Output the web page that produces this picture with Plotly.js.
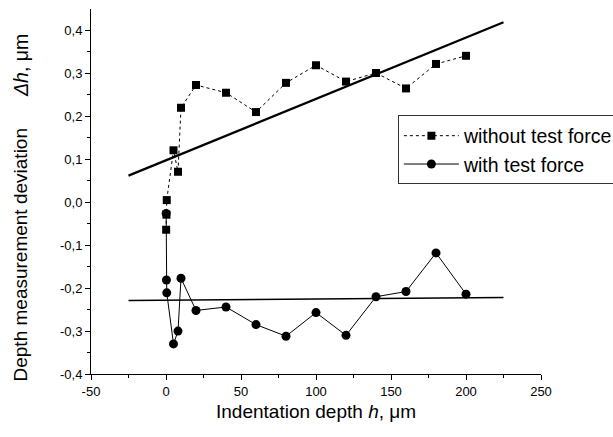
<!DOCTYPE html>
<html>
<head>
<meta charset="utf-8">
<script src="https://cdn.plot.ly/plotly-3.0.1.min.js"></script>
<style>html,body{margin:0;padding:0;background:#fff}#chart{width:613px;height:437px}</style>
</head>
<body>
<div id="chart"></div>
<script>
const hWithout = [0.1, 0.3, 0.5, 5, 8, 10, 20, 40, 60, 80, 100, 120, 140, 160, 180, 200];
const devWithout = [-0.064, -0.029, 0.005, 0.121, 0.071, 0.220, 0.273, 0.255, 0.210, 0.278, 0.319, 0.281, 0.301, 0.265, 0.322, 0.341];
const hWith = [0.1, 0.3, 0.5, 5, 8, 10, 20, 40, 60, 80, 100, 120, 140, 160, 180, 200];
const devWith = [-0.026, -0.181, -0.211, -0.330, -0.300, -0.177, -0.252, -0.244, -0.285, -0.312, -0.257, -0.310, -0.220, -0.208, -0.118, -0.214];
const fitH = [-25, 225];
const fitWithout = [0.062, 0.419];
const fitWith = [-0.229, -0.222];
const xTickVals = [-50, 0, 50, 100, 150, 200, 250];
const xTickText = ['-50', '0', '50', '100', '150', '200', '250'];
const yTickVals = [-0.4, -0.3, -0.2, -0.1, 0, 0.1, 0.2, 0.3, 0.4];
const yTickText = ['-0,4', '-0,3', '-0,2', '-0,1', '0,0', '0,1', '0,2', '0,3', '0,4'];
const xMinor = [-25, 25, 75, 125, 175, 225];
const yMinor = [-0.35, -0.25, -0.15, -0.05, 0.05, 0.15, 0.25, 0.35];

const FONT = 'Liberation Sans, Arial, sans-serif';
const traces = [
  {x: fitH, y: fitWithout, mode: 'lines', line: {color: '#000', width: 2.2}, showlegend: false, hoverinfo: 'skip'},
  {x: fitH, y: fitWith, mode: 'lines', line: {color: '#000', width: 1.5}, showlegend: false, hoverinfo: 'skip'},
  {x: hWithout, y: devWithout, name: 'without test force', mode: 'lines+markers',
   line: {color: '#000', width: 1, dash: 'dot'}, marker: {symbol: 'square', size: 8, color: '#000'}},
  {x: hWith, y: devWith, name: 'with test force', mode: 'lines+markers',
   line: {color: '#000', width: 1}, marker: {symbol: 'circle', size: 9, color: '#000'}}
];
const axisBase = {showgrid: false, zeroline: false, showline: true, linecolor: '#000', linewidth: 1,
  ticks: 'outside', ticklen: 5, tickwidth: 1, tickcolor: '#000', tickmode: 'array',
  tickfont: {family: FONT, size: 13, color: '#000'}, mirror: false};
const layout = {
  width: 613, height: 437,
  margin: {l: 91, r: 72, t: 9, b: 63, autoexpand: false},
  paper_bgcolor: '#fff', plot_bgcolor: '#fff',
  font: {family: FONT, color: '#000'},
  xaxis: Object.assign({}, axisBase, {range: [-50, 250], tickvals: xTickVals, ticktext: xTickText,
    minor: {tickmode: 'array', tickvals: xMinor, ticks: 'outside', ticklen: 3, tickcolor: '#000', tickwidth: 1}}),
  yaxis: Object.assign({}, axisBase, {range: [-0.4, 0.45], tickvals: yTickVals, ticktext: yTickText,
    minor: {tickmode: 'array', tickvals: yMinor, ticks: 'outside', ticklen: 3, tickcolor: '#000', tickwidth: 1}}),
  legend: {x: 0.682, y: 0.6137, xanchor: 'left', yanchor: 'middle', bgcolor: '#fff', bordercolor: '#333', borderwidth: 1,
    font: {family: FONT, size: 19.5, color: '#000'}, tracegroupgap: 0, itemwidth: 55},
  annotations: [
    {text: 'Indentation depth <i>h</i>, μm', xref: 'paper', yref: 'paper', x: 0.5, y: -0.104,
     xanchor: 'center', yanchor: 'middle', showarrow: false, font: {family: FONT, size: 19, color: '#000'}},
    {text: 'Depth measurement deviation', xref: 'paper', yref: 'paper',
     x: -0.1567, y: 0.326, xanchor: 'center', yanchor: 'middle', textangle: -90, showarrow: false,
     font: {family: FONT, size: 19, color: '#000'}},
    {text: '<i>Δh</i>, μm', xref: 'paper', yref: 'paper',
     x: -0.1567, y: 0.845, xanchor: 'center', yanchor: 'middle', textangle: -90, showarrow: false,
     font: {family: FONT, size: 19.5, color: '#000'}}
  ],
  showlegend: true
};
Plotly.newPlot('chart', traces, layout, {displayModeBar: false, staticPlot: true});
</script>
</body>
</html>
